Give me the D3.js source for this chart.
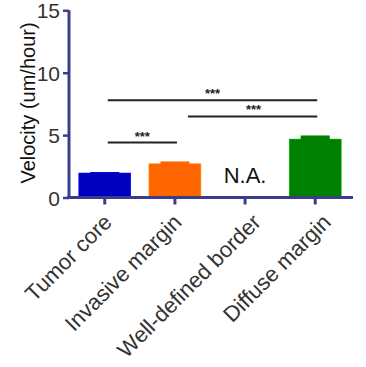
<!DOCTYPE html>
<html>
<head>
<meta charset="utf-8">
<script src="https://cdn.jsdelivr.net/npm/d3@7"></script>
<style>
  body { margin: 0; background: #fff; }
  text { font-family: "Liberation Sans", Arial, sans-serif; }
</style>
</head>
<body>
<svg id="chart" width="366" height="367"></svg>
<script>
'use strict';

// Data
const categories = ['Tumor core', 'Invasive margin', 'Well-defined border', 'Diffuse margin'];
const means      = [1.96, 2.70, null, 4.68];
const sems       = [0.08, 0.19, null, 0.29];
const colors     = ['#0000c0', '#ff6600', null, '#008000'];
const yTicks     = [0, 5, 10, 15];

// significance brackets: [from index, to index, y value, label]
const sigFrom  = [0, 0, 1];
const sigTo    = [1, 3, 3];
const sigLevel = [4.4, 7.8, 6.5];
const sigText  = ['***', '***', '***'];

// label nudges (px) so the rotated labels sit like the original
const labelShift = [8.5, 8, 17, 17];

const svg = d3.select('#chart');

const axisColor = '#383e8c';

const x = d3.scaleBand()
    .domain(categories)
    .range([69, 351])
    .paddingInner(0.26)
    .paddingOuter(0.14);

const y = d3.scaleLinear()
    .domain([0, 15])
    .range([197.5, 10.3]);

// bars
categories.forEach((c, i) => {
    if (means[i] === null) return;
    const cx = x(c) + x.bandwidth() / 2;
    svg.append('rect')
        .attr('x', x(c))
        .attr('y', y(means[i]))
        .attr('width', x.bandwidth())
        .attr('height', y(0) - y(means[i]))
        .attr('fill', colors[i])
        .attr('stroke', d3.color(colors[i]).brighter(0.8))
        .attr('stroke-width', 0.6);
    // error cap
    svg.append('rect')
        .attr('x', cx - 14.5)
        .attr('y', y(means[i] + sems[i]))
        .attr('width', 29)
        .attr('height', y(means[i]) - y(means[i] + sems[i]) + 1)
        .attr('fill', colors[i]);
});

// N.A. label
svg.append('text')
    .attr('x', x(categories[2]) + x.bandwidth() / 2)
    .attr('y', 183)
    .attr('text-anchor', 'middle')
    .attr('font-size', 22)
    .attr('fill', '#111')
    .text('N.A.');

// significance lines
sigFrom.forEach((f, i) => {
    const x1 = x(categories[f]) + x.bandwidth() / 2 + 3;
    const x2 = x(categories[sigTo[i]]) + x.bandwidth() / 2 + 2;
    const yy = y(sigLevel[i]);
    svg.append('line')
        .attr('x1', x1 - (i === 2 ? -10 : 0))
        .attr('x2', x2)
        .attr('y1', yy)
        .attr('y2', yy)
        .attr('stroke', '#222')
        .attr('stroke-width', 2);
    svg.append('text')
        .attr('x', (x1 + x2) / 2 + (i === 2 ? 6 : 0))
        .attr('y', yy - 2)
        .attr('text-anchor', 'middle')
        .attr('font-size', 13)
        .attr('font-weight', 'bold')
        .attr('fill', '#222')
        .text(sigText[i]);
});

// y axis
const yAxis = svg.append('g')
    .attr('transform', 'translate(69,0)')
    .call(d3.axisLeft(y).tickValues(yTicks).tickSize(6).tickPadding(3));
yAxis.select('.domain').attr('stroke', axisColor).attr('stroke-width', 3)
    .attr('d', `M0,${y(15)}V${y(0)}`);
yAxis.selectAll('.tick line').attr('stroke', axisColor).attr('stroke-width', 2.5);
yAxis.selectAll('.tick text')
    .attr('font-size', 21)
    .attr('fill', '#333')
    .attr('dy', '0.36em');

// x axis
const xAxis = svg.append('g')
    .attr('transform', `translate(0,${y(0)})`)
    .call(d3.axisBottom(x).tickSize(7).tickFormat(''));
xAxis.select('.domain').attr('stroke', axisColor).attr('stroke-width', 3)
    .attr('d', 'M67,0H353');
xAxis.selectAll('.tick line').attr('stroke', axisColor).attr('stroke-width', 3);

// x labels, rotated
categories.forEach((c, i) => {
    const cx = x(c) + x.bandwidth() / 2;
    svg.append('text')
        .attr('transform', `translate(${cx + labelShift[i]},${y(0) + 26}) rotate(-45)`)
        .attr('text-anchor', 'end')
        .attr('font-size', 22)
        .attr('fill', '#333')
        .text(c);
});

// y label
svg.append('text')
    .attr('transform', 'translate(35,103) rotate(-90)')
    .attr('text-anchor', 'middle')
    .attr('font-size', 20)
    .attr('fill', '#111')
    .text('Velocity (um/hour)');
</script>
</body>
</html>
